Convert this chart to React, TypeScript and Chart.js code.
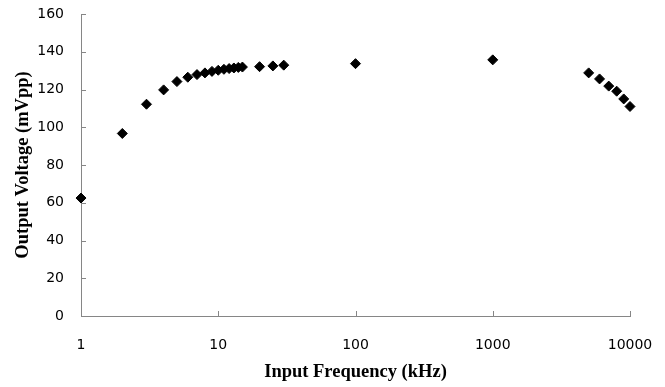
import React, { useEffect, useRef } from "react";
import { Chart, registerables } from "chart.js";

Chart.register(...registerables);

const frequencies = [1, 2, 3, 4, 5, 6, 7, 8, 9, 10, 11, 12, 13, 14, 15, 20, 25, 30, 100, 1000, 5000, 6000, 7000, 8000, 9000, 10000];
const voltages = [62.5, 96.7, 112.2, 119.8, 124.2, 126.5, 127.9, 128.8, 129.6, 130.2, 130.7, 131.1, 131.4, 131.7, 131.9, 132.1, 132.5, 132.9, 133.7, 135.7, 128.8, 125.6, 121.8, 119.1, 115, 111];
const xTicks = [1, 10, 100, 1000, 10000];
const yTicks = [0, 20, 40, 60, 80, 100, 120, 140, 160];
const xTitle = "Input Frequency (kHz)";
const yTitle = "Output Voltage (mVpp)";

const AXIS_COLOR = "#868686";

const innerTicks = {
  id: "innerTicks",
  afterDatasetsDraw(chart: any) {
    const { ctx, scales } = chart;
    const x = scales.x;
    const y = scales.y;
    ctx.save();
    ctx.strokeStyle = AXIS_COLOR;
    ctx.lineWidth = 1;
    ctx.beginPath();
    for (const v of xTicks) {
      const px = Math.round(x.getPixelForValue(v)) + 0.5;
      ctx.moveTo(px, y.bottom);
      ctx.lineTo(px, y.bottom - 5);
    }
    for (const v of yTicks) {
      const py = Math.round(y.getPixelForValue(v)) + 0.5;
      ctx.moveTo(x.left, py);
      ctx.lineTo(x.left + 5, py);
    }
    ctx.stroke();
    ctx.restore();
  },
};

export default function App() {
  const ref = useRef<HTMLCanvasElement | null>(null);

  useEffect(() => {
    document.body.style.margin = "0";
    const canvas = ref.current;
    if (!canvas) return;
    const chart = new Chart(canvas, {
      type: "scatter",
      data: {
        datasets: [
          {
            data: frequencies.map((f, i) => ({ x: f, y: voltages[i] })),
            pointStyle: "rectRot",
            pointRadius: 5,
            pointBorderWidth: 1,
            backgroundColor: "#000",
            borderColor: "#000",
            clip: false,
          },
        ],
      },
      options: {
        animation: false,
        responsive: false,
        maintainAspectRatio: false,
        layout: { padding: { left: 0, top: 14, right: 35, bottom: 0 } },
        plugins: {
          legend: { display: false },
          tooltip: { enabled: false },
        },
        scales: {
          x: {
            type: "logarithmic",
            min: 1,
            max: 10000,
            afterBuildTicks: (s: any) => {
              s.ticks = xTicks.map((v) => ({ value: v }));
            },
            afterFit: (s: any) => {
              s.height = 71;
              s.paddingLeft = 0;
              s.paddingRight = 0;
            },
            grid: { display: false, drawTicks: false },
            border: { display: true, color: AXIS_COLOR, width: 1 },
            ticks: {
              autoSkip: false,
              maxRotation: 0,
              padding: 21,
              color: "#000",
              font: { family: "DejaVu Sans", size: 14 },
              callback: (v: any) => String(v),
            },
            title: {
              display: true,
              text: xTitle,
              color: "#000",
              font: { family: "Liberation Serif", size: 18.5, weight: "bold" },
              padding: { top: 0, bottom: 4 },
            },
          },
          y: {
            min: 0,
            max: 160,
            afterBuildTicks: (s: any) => {
              s.ticks = yTicks.map((v) => ({ value: v }));
            },
            afterFit: (s: any) => {
              s.width = 81;
              s.paddingTop = 0;
              s.paddingBottom = 0;
            },
            grid: { display: false, drawTicks: false },
            border: { display: true, color: AXIS_COLOR, width: 1 },
            ticks: {
              padding: 17,
              color: "#000",
              font: { family: "DejaVu Sans", size: 14 },
            },
            title: {
              display: true,
              text: yTitle,
              color: "#000",
              font: { family: "Liberation Serif", size: 18.5, weight: "bold" },
              padding: { top: 12, bottom: 0 },
            },
          },
        },
      },
      plugins: [innerTicks],
    });
    return () => chart.destroy();
  }, []);

  return (
    <div style={{ width: 665, height: 387 }}>
      <canvas ref={ref} width={665} height={387} style={{ width: 665, height: 387, display: "block" }} />
    </div>
  );
}
